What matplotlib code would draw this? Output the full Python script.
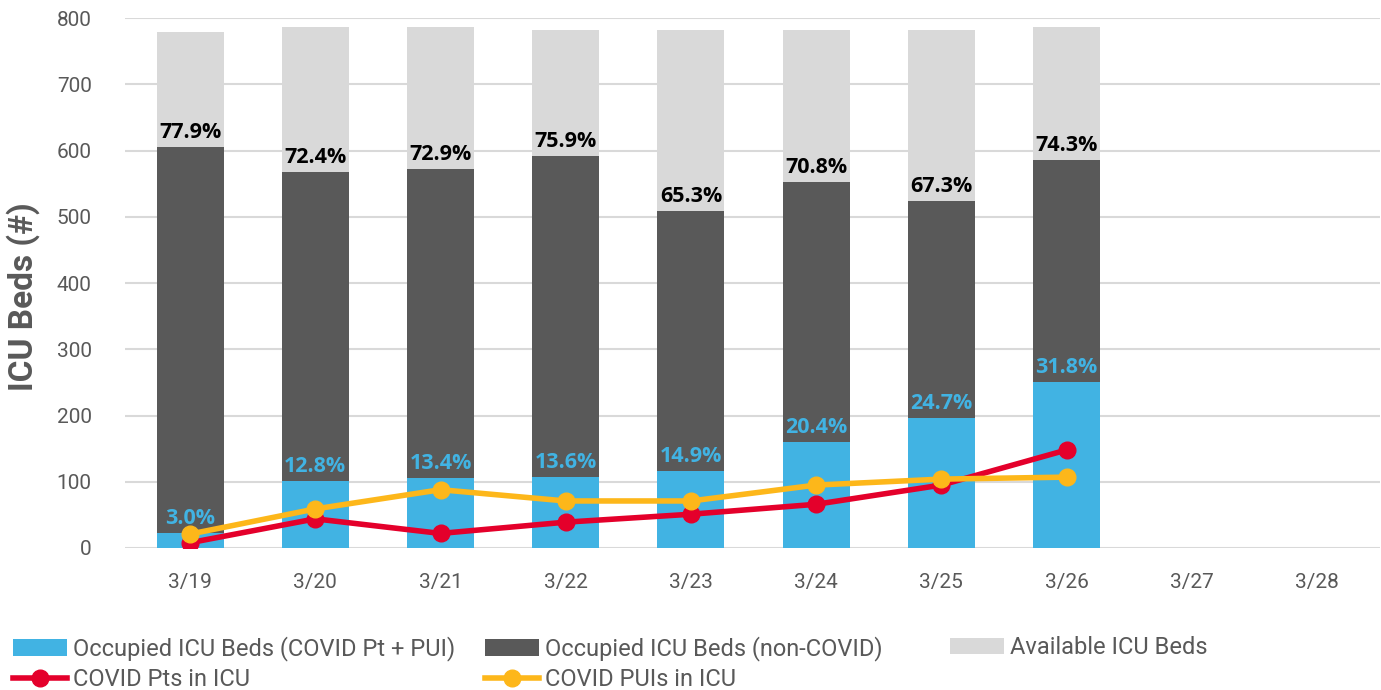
import matplotlib.pyplot as plt
import numpy as np

# data
dates = ['3/19', '3/20', '3/21', '3/22', '3/23', '3/24', '3/25', '3/26', '3/27', '3/28']
covid_beds = [23, 101, 106, 107, 116, 160, 196, 251]
noncovid_beds = [582, 467, 466, 485, 393, 392, 328, 334]
available_beds = [174, 218, 214, 190, 273, 230, 258, 201]
occupied_pct = ['77.9%', '72.4%', '72.9%', '75.9%', '65.3%', '70.8%', '67.3%', '74.3%']
covid_pct = ['3.0%', '12.8%', '13.4%', '13.6%', '14.9%', '20.4%', '24.7%', '31.8%']
covid_pts = [8, 44, 22, 39, 51, 66, 95, 148]
covid_puis = [21, 59, 88, 71, 71, 95, 104, 107]

BLUE = '#41B3E3'
DARK = '#595959'
LIGHT = '#D9D9D9'
RED = '#E4002B'
YELLOW = '#FDB71A'
GRAY_TXT = '#595959'

plt.rcParams['font.family'] = ['Roboto', 'DejaVu Sans']

fig = plt.figure(figsize=(13.81, 6.90), dpi=100)
ax = fig.add_axes([0.0905, 0.2058, 0.9085, 0.768])

n = len(covid_beds)
x = np.arange(n)
w = 0.535
covid_beds = np.array(covid_beds)
noncovid_beds = np.array(noncovid_beds)
available_beds = np.array(available_beds)
occupied = covid_beds + noncovid_beds

b1 = ax.bar(x, covid_beds, w, color=BLUE, zorder=2)
b2 = ax.bar(x, noncovid_beds, w, bottom=covid_beds, color=DARK, zorder=2)
b3 = ax.bar(x, available_beds, w, bottom=occupied, color=LIGHT, zorder=2)

l1, = ax.plot(x, covid_pts, color=RED, lw=4, marker='o', ms=12, zorder=4)
l2, = ax.plot(x, covid_puis, color=YELLOW, lw=4, marker='o', ms=12, zorder=5)

# percentage labels
for i in range(n):
    ax.annotate(occupied_pct[i], (x[i], occupied[i]), xytext=(0, 3),
                textcoords='offset points', ha='center', va='bottom',
                fontsize=15.5, fontweight='bold', color='black',
                family=['Open Sans', 'DejaVu Sans'], zorder=6)
    ax.annotate(covid_pct[i], (x[i], covid_beds[i]), xytext=(0, 3),
                textcoords='offset points', ha='center', va='bottom',
                fontsize=15.5, fontweight='bold', color=BLUE,
                family=['Open Sans', 'DejaVu Sans'], zorder=6)

ax.set_xlim(-0.52, 9.5)
ax.set_ylim(0, 800)
ax.set_yticks(range(0, 801, 100))
ax.set_xticks(range(len(dates)))
ax.set_xticklabels(dates)
ax.tick_params(axis='both', length=0, labelsize=15, colors=GRAY_TXT)
ax.tick_params(axis='x', pad=18)
ax.tick_params(axis='y', pad=24)
ax.grid(axis='y', color='#D9D9D9', lw=1.5, zorder=0)
ax.set_axisbelow(True)
for s in ax.spines.values():
    s.set_visible(False)

ax.set_ylabel('ICU Beds (#)', fontsize=24, fontweight='bold', color=GRAY_TXT)
ax.yaxis.set_label_coords(-0.068, 0.475)

# legend, laid out in fixed columns like the original
leg_kw = dict(frameon=False, fontsize=17, handlelength=2.3, handleheight=0.7,
              handletextpad=0.25, labelspacing=0.3, borderaxespad=0, borderpad=0,
              labelcolor=GRAY_TXT)
fig.legend([b1, l1], ['Occupied ICU Beds (COVID Pt + PUI)', 'COVID Pts in ICU'],
           loc='upper left', bbox_to_anchor=(0.0094, 0.078), **leg_kw)
fig.legend([b2, l2], ['Occupied ICU Beds (non-COVID)', 'COVID PUIs in ICU'],
           loc='upper left', bbox_to_anchor=(0.351, 0.078), **leg_kw)
fig.legend([b3], ['Available ICU Beds'],
           loc='upper left', bbox_to_anchor=(0.688, 0.078), **leg_kw)

fig.savefig('out.png', dpi=100)
